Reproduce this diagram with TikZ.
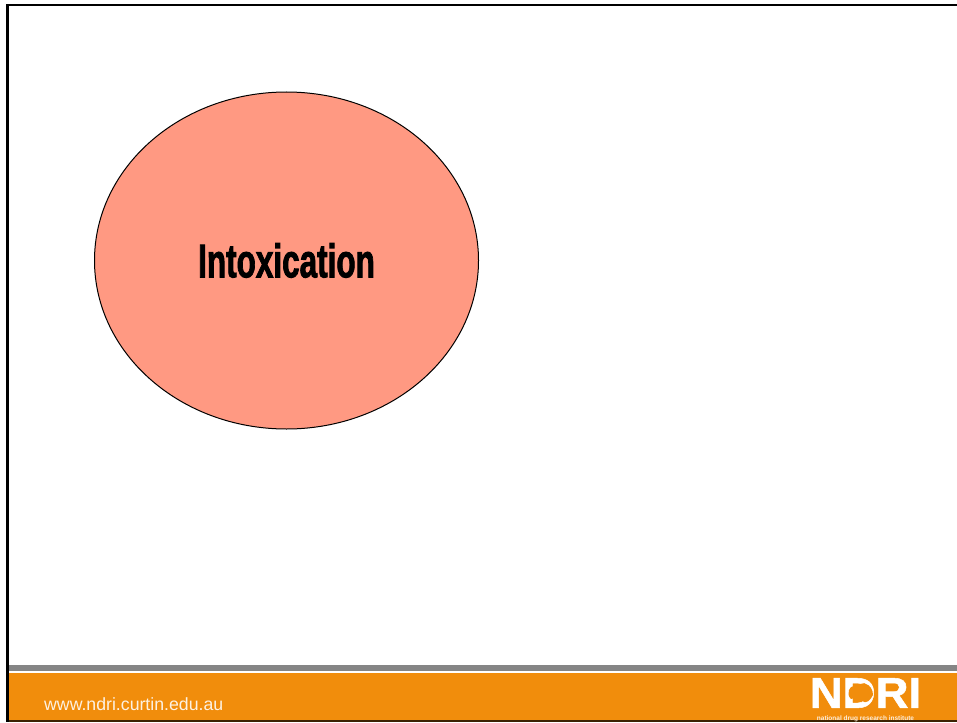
\documentclass[tikz,border=0pt]{standalone}
\usepackage{fontspec}
\setmainfont{Liberation Sans}
\newfontfamily\heavyfont[FakeBold=2.2]{Liberation Sans Bold}
\newfontfamily\logofont[FakeBold=1.2]{Liberation Sans Bold}
\usetikzlibrary{shapes.geometric}
\definecolor{bandorange}{RGB}{241,141,12}
\definecolor{bandgray}{RGB}{133,133,133}
\definecolor{circlefill}{RGB}{255,153,130}
\tikzset{
  bubble/.style={ellipse,draw=black,fill=circlefill,line width=1pt,minimum width=384pt,minimum height=337pt,inner sep=0pt},
  bubbletext/.style={font=\fontsize{47}{47}\heavyfont,xscale=0.67,text=black},
  webtext/.style={font=\fontsize{17.7}{18}\selectfont,text=white!88!bandorange,anchor=west,inner sep=0pt},
  logotext/.style={font=\fontsize{43}{43}\logofont,text=white,inner sep=0pt,xscale=1.06},
  logosubtext/.style={font=\fontsize{6.5}{7}\selectfont\bfseries,text=white!85!bandorange,inner sep=0pt},
}
\begin{document}
\begin{tikzpicture}[x=1pt,y=-1pt]
   \useasboundingbox (0,0) rectangle (957,722);
   \fill[white] (0,0) rectangle (957,722);

   % footer band
   \fill[bandgray] (8,665) rectangle (957,671);
   \fill[bandorange] (8,673) rectangle (957,720);
   \fill[black!75!bandorange] (8,720) rectangle (957,722);

   % frame
   \fill[black] (6,4) rectangle (957,6.5);
   \fill[black] (6,4) rectangle (9,722);

   \node[bubble] (intox) at (286.5,260.5) {};
   \node[bubbletext] (intoxlabel) at (286.5,260.5) {Intoxication};

   \node[webtext] (web) at (44,704) {www.ndri.curtin.edu.au};

   % logo
   \node[logotext] (logo) at (865.5,693) {NDRI};
   \fill[bandorange] (849,690) .. controls (851,685) and (855,686) .. (857,687)
      .. controls (860,684) and (864,682) .. (866,684)
      .. controls (870,685) and (873,690) .. (873,695)
      .. controls (870,701) and (866,704) .. (862,701)
      .. controls (858,698) and (853,698) .. (851,699)
      .. controls (848,696) and (848,693) .. (849,690) -- cycle;
   \node[logosubtext] (logosub) at (865.5,719) {national drug research institute};
\end{tikzpicture}
\end{document}
